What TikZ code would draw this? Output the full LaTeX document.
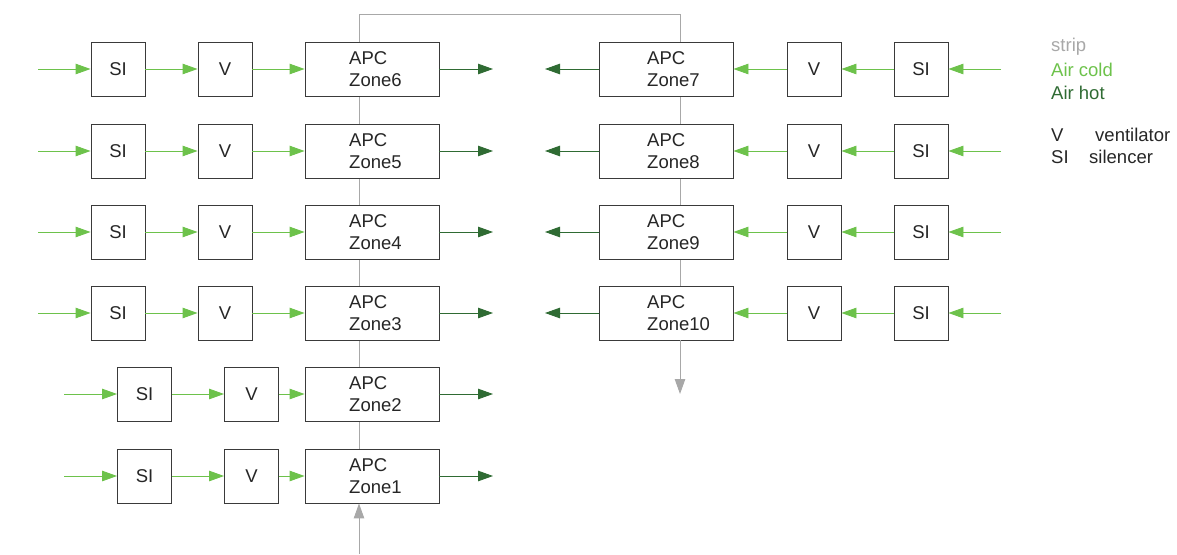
\documentclass[tikz,border=0pt]{standalone}
\usepackage{fontspec}
\setmainfont{Liberation Sans}
\usetikzlibrary{arrows.meta}
\definecolor{cold}{HTML}{6DC24B}
\definecolor{hot}{HTML}{2F6B33}
\definecolor{strip}{HTML}{A8A8A8}
\definecolor{edge}{HTML}{3A3A3A}
\begin{document}
\begin{tikzpicture}[x=1pt,y=-1pt,
  font=\fontsize{18.5}{22.5}\selectfont,
  unit/.style={draw=edge,fill=white,line width=0.9pt,minimum width=54pt,minimum height=54pt,inner sep=0pt,text=black!85},
  apc/.style={draw=edge,fill=white,line width=0.9pt,minimum width=134pt,minimum height=54pt,inner sep=0pt},
  apctext/.style={anchor=west,align=left,inner sep=0pt,text=black!85},
  coldline/.style={draw=cold,line width=0.9pt,-{Triangle[length=15pt,width=10.5pt]}},
  hotline/.style={draw=hot,line width=0.9pt,-{Triangle[length=15pt,width=10.5pt]}},
  stripline/.style={draw=strip,line width=1pt},
  legend/.style={anchor=west,inner sep=0pt}]
\useasboundingbox (0,0) rectangle (1177,554);
% strip line behind the boxes
\coordinate (tl) at (359,14);
\coordinate (tr) at (680,14);
\coordinate (gin) at (359,554);
\coordinate (gout) at (680,394);
\draw[stripline] (359,503) -- (tl) -- (tr) -- (680,340);
% left column
\foreach \z/\y/\sx/\vx/\ix in {6/69/118/225/38,5/151/118/225/38,4/232/118/225/38,3/313/118/225/38,2/394/144.5/251.5/64,1/476/144.5/251.5/64}{
  \node[unit] (si\z) at (\sx,\y) {SI};
  \node[unit] (v\z) at (\vx,\y) {V};
  \node[apc] (z\z) at (372,\y) {};
  \node[apctext] (t\z) at (349,\y) {APC\\Zone\z};
  \coordinate (in\z) at (\ix,\y);
  \coordinate (out\z) at (493,\y);
  \draw[coldline] (in\z) -- (si\z.west);
  \draw[coldline] (si\z.east) -- (v\z.west);
  \draw[coldline] (v\z.east) -- (z\z.west);
  \draw[hotline] (z\z.east) -- (out\z);
}
% right column
\foreach \z/\y in {7/69,8/151,9/232,10/313}{
  \node[unit] (si\z) at (921,\y) {SI};
  \node[unit] (v\z) at (814,\y) {V};
  \node[apc] (z\z) at (666,\y) {};
  \node[apctext] (t\z) at (647,\y) {APC\\Zone\z};
  \coordinate (in\z) at (1001,\y);
  \coordinate (out\z) at (545,\y);
  \draw[coldline] (in\z) -- (si\z.east);
  \draw[coldline] (si\z.west) -- (v\z.east);
  \draw[coldline] (v\z.west) -- (z\z.east);
  \draw[hotline] (z\z.west) -- (out\z);
}
% strip arrows
\draw[stripline,-{Triangle[length=15pt,width=10.5pt]}] (gin) -- (gin |- z1.south);
\draw[stripline,-{Triangle[length=15pt,width=10.5pt]}] (gout |- z10.south) -- (gout);
% legend
\node[legend,text=strip] (l1) at (1051,47) {strip};
\node[legend,text=cold] (l2) at (1051,70) {Air cold};
\node[legend,text=hot] (l3) at (1051,93) {Air hot};
\node[legend,text=black!85] (l4) at (1051,135) {V};
\node[legend,text=black!85] (l4b) at (1095,135) {ventilator};
\node[legend,text=black!85] (l5) at (1051,157) {SI};
\node[legend,text=black!85] (l5b) at (1089,157) {silencer};
\end{tikzpicture}
\end{document}
